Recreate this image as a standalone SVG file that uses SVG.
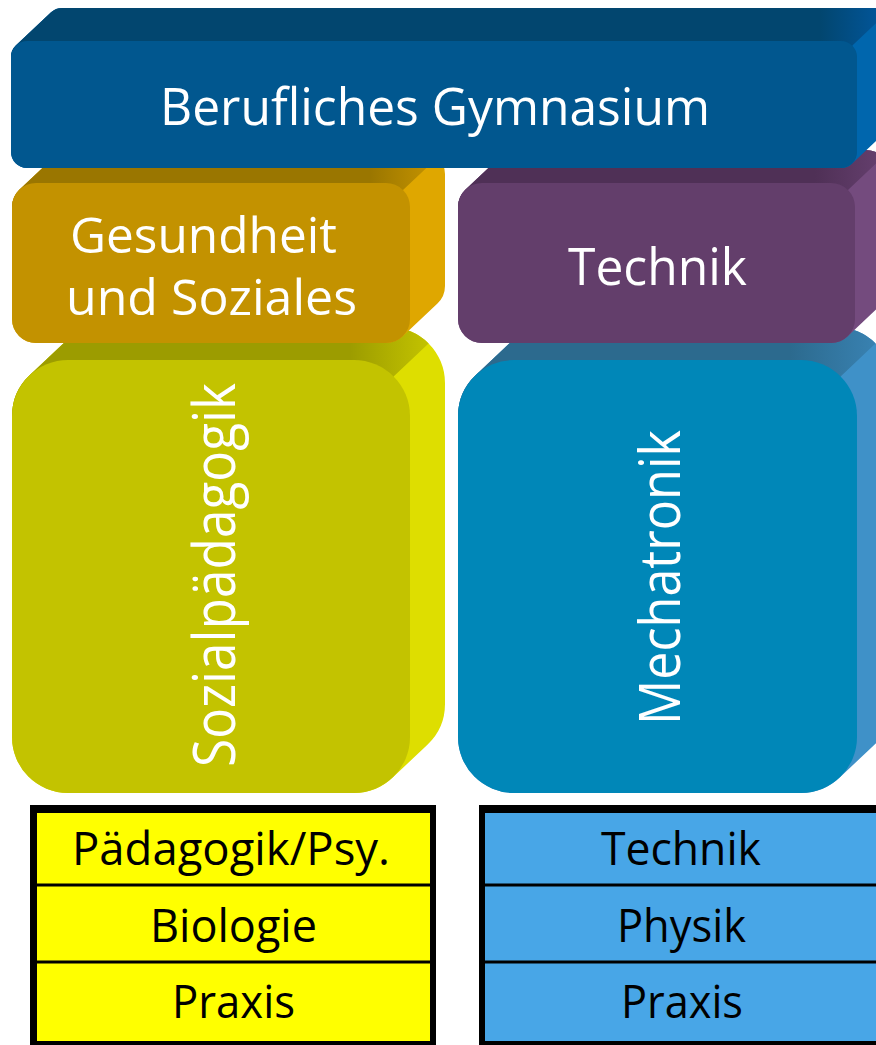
<svg xmlns="http://www.w3.org/2000/svg" width="876" height="1045" viewBox="0 0 876 1045">
<style>
.lbl{font-family:"Open Sans","DejaVu Sans",sans-serif;fill:#ffffff;text-anchor:middle}
.cell{font-family:"Open Sans","DejaVu Sans",sans-serif;fill:#000000;text-anchor:middle;font-size:46px}
.div{stroke:#000;stroke-width:3}
</style>
<defs>
<clipPath id="cY"><rect x="47" y="327" width="398" height="433" rx="56"/><polygon points="29.58,375.23 64.58,342.23 427.42,744.77 392.42,777.77"/><rect x="12" y="360" width="398" height="433" rx="56"/></clipPath>
<clipPath id="cB"><rect x="493" y="327" width="399" height="433" rx="56"/><polygon points="475.58,375.23 510.58,342.23 874.42,744.77 839.42,777.77"/><rect x="458" y="360" width="399" height="433" rx="56"/></clipPath>
<clipPath id="cG"><rect x="47" y="150" width="398" height="160" rx="24"/><polygon points="19.54,189.53 54.54,156.53 437.46,303.47 402.46,336.47"/><rect x="12" y="183" width="398" height="160" rx="24"/></clipPath>
<clipPath id="cP"><rect x="493" y="150" width="397" height="160" rx="24"/><polygon points="465.54,189.53 500.54,156.53 882.46,303.47 847.46,336.47"/><rect x="458" y="183" width="397" height="160" rx="24"/></clipPath>
<clipPath id="cT"><rect x="46" y="8" width="846" height="127" rx="16"/><polygon points="16,45.35 51,12.35 886.98,130.65 851.98,163.65"/><rect x="11" y="41" width="846" height="127" rx="16"/></clipPath>
<linearGradient id="gY" gradientUnits="userSpaceOnUse" x1="350" y1="0" x2="440" y2="0"><stop offset="0" stop-color="#9C9C00"/><stop offset="1" stop-color="#C8C800"/></linearGradient>
<linearGradient id="gB" gradientUnits="userSpaceOnUse" x1="790" y1="0" x2="885" y2="0"><stop offset="0" stop-color="#2C6A8E"/><stop offset="1" stop-color="#3A84B5"/></linearGradient>
<linearGradient id="gG" gradientUnits="userSpaceOnUse" x1="370" y1="0" x2="440" y2="0"><stop offset="0" stop-color="#9A7600"/><stop offset="1" stop-color="#C99600"/></linearGradient>
<linearGradient id="gP" gradientUnits="userSpaceOnUse" x1="815" y1="0" x2="885" y2="0"><stop offset="0" stop-color="#4F3056"/><stop offset="1" stop-color="#66406F"/></linearGradient>
<linearGradient id="gT" gradientUnits="userSpaceOnUse" x1="820" y1="0" x2="890" y2="0"><stop offset="0" stop-color="#02466F"/><stop offset="1" stop-color="#0258A0"/></linearGradient>
</defs>

<g id="sozialpaedagogik">
<g clip-path="url(#cY)">
<rect x="0" y="250" width="460" height="560" fill="#DEDE00"/>
<polygon points="-100,416 -100,250 527.7,250 393.6,376.4 393.6,416" fill="url(#gY)"/>
</g>
<rect x="12" y="360" width="398" height="433" rx="56" fill="#C3C300"/>
<text class="lbl" transform="translate(235,575) rotate(-90)" font-size="58" textLength="384" lengthAdjust="spacingAndGlyphs">Sozialpädagogik</text>
</g>

<g id="mechatronik">
<g clip-path="url(#cB)">
<rect x="440" y="250" width="460" height="560" fill="#3F91C8"/>
<polygon points="350,416 350,250 974.7,250 840.6,376.4 840.6,416" fill="url(#gB)"/>
</g>
<rect x="458" y="360" width="399" height="433" rx="56" fill="#0087B8"/>
<text class="lbl" transform="translate(680,577.5) rotate(-90)" font-size="56" textLength="295" lengthAdjust="spacingAndGlyphs">Mechatronik</text>
</g>

<g id="gesundheit">
<g clip-path="url(#cG)">
<rect x="0" y="140" width="460" height="220" fill="#DFA700"/>
<polygon points="-100,207 -100,100 498.5,100 403,190 403,207" fill="url(#gG)"/>
</g>
<rect x="12" y="183" width="398" height="160" rx="24" fill="#C39200"/>
<text class="lbl" x="203.5" y="253" font-size="50" textLength="267" lengthAdjust="spacingAndGlyphs">Gesundheit</text>
<text class="lbl" x="211.5" y="315" font-size="50" textLength="291" lengthAdjust="spacingAndGlyphs">und Soziales</text>
</g>

<g id="technik">
<g clip-path="url(#cP)">
<rect x="440" y="140" width="460" height="220" fill="#744B7E"/>
<polygon points="350,207 350,100 943.5,100 848,190 848,207" fill="url(#gP)"/>
</g>
<rect x="458" y="183" width="397" height="160" rx="24" fill="#633E6B"/>
<text class="lbl" x="657.5" y="285" font-size="52" textLength="179" lengthAdjust="spacingAndGlyphs">Technik</text>
</g>

<g id="berufliches-gymnasium">
<g clip-path="url(#cT)">
<rect x="0" y="0" width="900" height="180" fill="#0066AD"/>
<polygon points="-100,57 -100,-100 1006.8,-100 852.4,45.6 852.4,57" fill="url(#gT)"/>
</g>
<rect x="11" y="41" width="846" height="127" rx="16" fill="#01578F"/>
<text class="lbl" x="435" y="125" font-size="52" textLength="550" lengthAdjust="spacingAndGlyphs">Berufliches Gymnasium</text>
</g>

<g id="table-left">
<rect x="30" y="805" width="406" height="240" fill="#000"/>
<rect x="37" y="813" width="393" height="228" fill="#FFFF00"/>
<line class="div" x1="37" y1="885" x2="430" y2="885"/>
<line class="div" x1="37" y1="962" x2="430" y2="962"/>
<text class="cell" x="231" y="865" textLength="318" lengthAdjust="spacingAndGlyphs">Pädagogik/Psy.</text>
<text class="cell" x="233.5" y="942" textLength="167" lengthAdjust="spacingAndGlyphs">Biologie</text>
<text class="cell" x="233.5" y="1018" textLength="123" lengthAdjust="spacingAndGlyphs">Praxis</text>
</g>

<g id="table-right">
<rect x="479" y="805" width="410" height="240" fill="#000"/>
<rect x="485" y="813" width="400" height="228" fill="#48A6E7"/>
<line class="div" x1="485" y1="885" x2="876" y2="885"/>
<line class="div" x1="485" y1="962" x2="876" y2="962"/>
<text class="cell" x="681" y="865" textLength="160" lengthAdjust="spacingAndGlyphs">Technik</text>
<text class="cell" x="681.5" y="942" textLength="129" lengthAdjust="spacingAndGlyphs">Physik</text>
<text class="cell" x="682" y="1018" textLength="122" lengthAdjust="spacingAndGlyphs">Praxis</text>
</g>

<g id="connectors"></g>
</svg>
